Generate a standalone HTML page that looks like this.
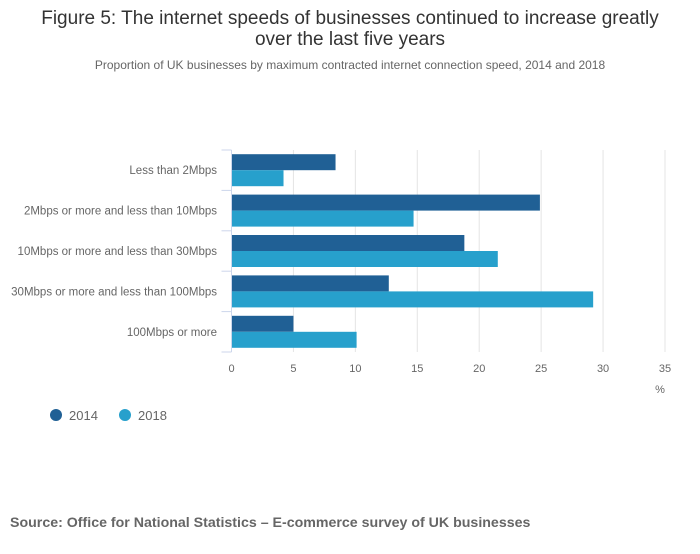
<!DOCTYPE html>
<html><head><meta charset="utf-8"><style>
body{margin:0;background:#fff;width:700px;height:549px;overflow:hidden;font-family:"Liberation Sans",sans-serif}
</style></head><body>
<svg width="700" height="549" xmlns="http://www.w3.org/2000/svg">
<text x="350" y="24" text-anchor="middle" font-size="19" fill="#333">Figure 5: The internet speeds of businesses continued to increase greatly</text>
<text x="350" y="45" text-anchor="middle" font-size="19" fill="#333">over the last five years</text>
<text x="350" y="69" text-anchor="middle" font-size="12" fill="#666">Proportion of UK businesses by maximum contracted internet connection speed, 2014 and 2018</text>
<g id="grid"></g><g id="bars"></g><g id="axes"></g>
<text x="660" y="393" text-anchor="middle" font-size="11" fill="#666">%</text>
<g>
<circle cx="56" cy="415" r="6" fill="#206095"/>
<text x="69" y="420" font-size="13" fill="#666">2014</text>
<circle cx="125" cy="415" r="6" fill="#27a0cc"/>
<text x="138" y="420" font-size="13" fill="#666">2018</text>
</g>
<text x="10" y="527" font-size="14.2" font-weight="bold" fill="#666">Source: Office for National Statistics – E-commerce survey of UK businesses</text>
</svg>
<script>
const categories=["Less than 2Mbps","2Mbps or more and less than 10Mbps","10Mbps or more and less than 30Mbps","30Mbps or more and less than 100Mbps","100Mbps or more"];
const series2014=[8.4,24.9,18.8,12.7,5.0];
const series2018=[4.2,14.7,21.5,29.2,10.1];
const xTicks=[0,5,10,15,20,25,30,35];
const NS="http://www.w3.org/2000/svg";
const x0=231.5,x1=665,y0=150,y1=352;
const xs=v=>x0+v/35*(x1-x0);
const band=(y1-y0)/categories.length;
const yb=i=>y0+i*band;
function mk(tag,attrs,parent){const e=document.createElementNS(NS,tag);for(const k in attrs)e.setAttribute(k,attrs[k]);document.getElementById(parent).appendChild(e);return e;}
xTicks.forEach(t=>{
 if(t>0){const g=mk('line',{x1:xs(t),x2:xs(t),y1:y0,y2:y1,stroke:'#e4e4e4'},'grid');
 
 }
 const l=mk('text',{x:xs(t),y:372,'text-anchor':'middle','font-size':11,fill:'#666'},'axes');l.textContent=t;
 
 
});
const ax=mk('line',{x1:x0,x2:x0,y1:y0,y2:y1,stroke:'#ccd6eb'},'axes');


for(let i=0;i<=categories.length;i++){const t=mk('line',{x1:x0-10,x2:x0,y1:yb(i),y2:yb(i),stroke:'#ccd6eb'},'axes');
 
 }
categories.forEach((c,i)=>{
 const l=mk('text',{x:217,y:yb(i)+band/2+4,'text-anchor':'end','font-size':11.5,fill:'#666'},'axes');l.textContent=c;
 
 
 const h=16,top=yb(i)+band/2-h;
 const a=mk('rect',{x:x0,y:top,width:xs(series2014[i])-x0,height:h,fill:'#206095'},'bars');
 
 
 const b=mk('rect',{x:x0,y:top+h,width:xs(series2018[i])-x0,height:h,fill:'#27a0cc'},'bars');
 
 
});
</script>
</body></html>
